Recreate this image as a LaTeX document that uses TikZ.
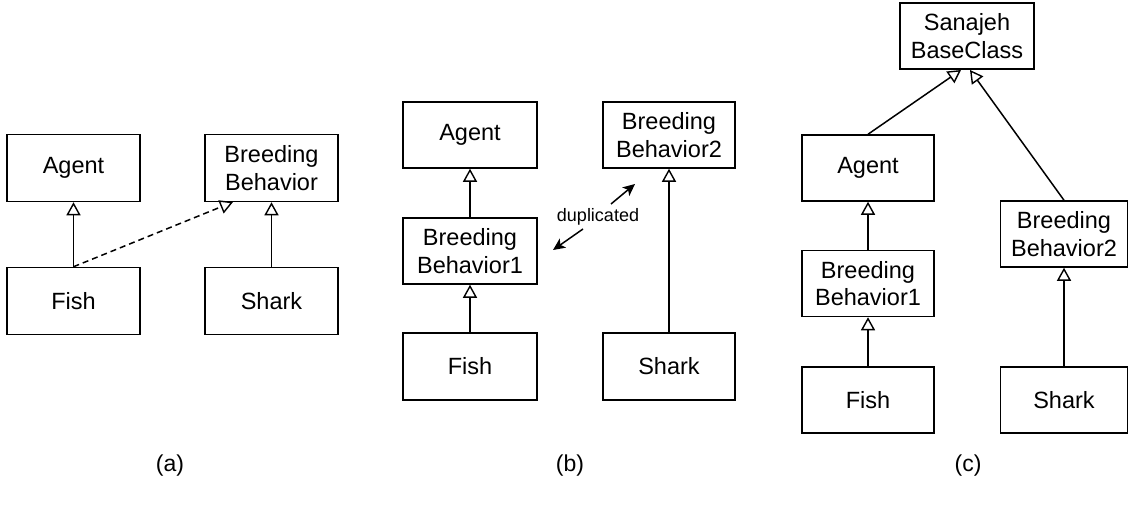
\documentclass[tikz,border=0pt]{standalone}
\usepackage{fontspec}
\setmainfont{Liberation Sans}
\usetikzlibrary{arrows.meta}
\tikzset{
  cls/.style={draw, line width=1.5pt, rectangle, inner sep=0pt, minimum width=133pt, minimum height=67pt,
    align=center, font=\fontsize{23.5}{27.5}\selectfont},
  inh/.style={line width=1.5pt, -{Triangle[open, length=13pt, width=14pt, line width=1.4pt]}},
  dupar/.style={line width=1.5pt, -{Stealth[length=12pt, width=11pt, inset=3pt]}},
  panellabel/.style={font=\fontsize{23}{27}\selectfont},
}
\begin{document}
\begin{tikzpicture}[x=1pt,y=-1pt]
\useasboundingbox (0,0) rectangle (1129,511);
% (a)
\node[cls] (aAgent) at (73.5,168) {Agent};
\node[cls] (aBB) at (271.5,168) {Breeding\\Behavior};
\node[cls] (aFish) at (73.5,301) {Fish};
\node[cls] (aShark) at (271.5,301) {Shark};
\coordinate (aBBin) at (233,202);
\draw[inh] (aFish.north) -- (aAgent.south);
\draw[inh] (aShark.north) -- (aBB.south);
\draw[inh, dashed, dash pattern=on 6pt off 4pt] (aFish.north) -- (aBBin);
\node[panellabel] (la) at (170,466) {(a)};
% (b)
\node[cls, minimum width=134pt, minimum height=66pt] (bAgent) at (470,135) {Agent};
\node[cls, minimum width=132pt, minimum height=66pt] (bBB2) at (669,135) {Breeding\\Behavior2};
\node[cls, minimum width=134pt, minimum height=66pt] (bBB1) at (470,251) {Breeding\\Behavior1};
\node[cls, minimum width=134pt] (bFish) at (470,366.5) {Fish};
\node[cls, minimum width=132pt] (bShark) at (669,366.5) {Shark};
\draw[inh] (bBB1.north) -- (bAgent.south);
\draw[inh] (bFish.north) -- (bBB1.south);
\draw[inh] (bShark.north) -- (bBB2.south);
\node[font=\fontsize{18}{20}\selectfont, inner sep=0pt] (dup) at (598,217) {duplicated};
\coordinate (d1s) at (583,229);
\coordinate (d1e) at (553,250);
\coordinate (d2s) at (611,204);
\coordinate (d2e) at (635,184);
\draw[dupar] (d1s) -- (d1e);
\draw[dupar] (d2s) -- (d2e);
\node[panellabel] (lb) at (570,466) {(b)};
% (c)
\node[cls, minimum width=134pt, minimum height=66pt] (cBase) at (967,36) {Sanajeh\\BaseClass};
\node[cls, minimum width=132pt, minimum height=66pt] (cAgent) at (868,168) {Agent};
\node[cls, minimum width=127pt, minimum height=66pt] (cBB2) at (1064,234) {Breeding\\Behavior2};
\node[cls, minimum width=132pt, minimum height=66pt] (cBB1) at (868,283.5) {Breeding\\Behavior1};
\node[cls, minimum width=132pt, minimum height=66pt] (cFish) at (868,400) {Fish};
\node[cls, minimum width=127pt, minimum height=66pt] (cShark) at (1064,400) {Shark};
\coordinate (cIn1) at (961,70);
\coordinate (cIn2) at (970,70);
\draw[inh] (cAgent.north) -- (cIn1);
\draw[inh] (cBB2.north) -- (cIn2);
\draw[inh] (cBB1.north) -- (cAgent.south);
\draw[inh] (cFish.north) -- (cBB1.south);
\draw[inh] (cShark.north) -- (cBB2.south);
\node[panellabel] (lc) at (968,466) {(c)};
\end{tikzpicture}
\end{document}
